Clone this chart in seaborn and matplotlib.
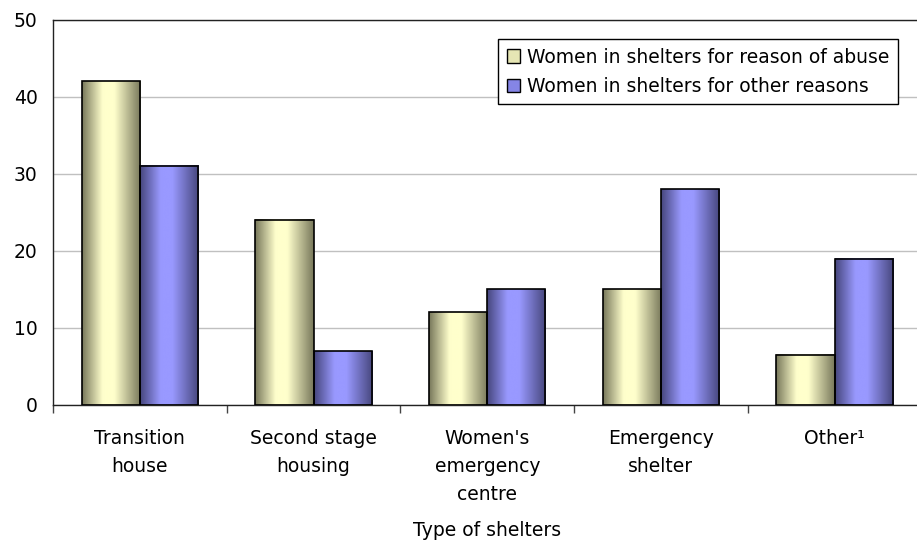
import matplotlib
matplotlib.use("Agg")
import matplotlib.pyplot as plt
from matplotlib.colors import LinearSegmentedColormap, to_rgba
from matplotlib.patches import Patch
import numpy as np
import pandas as pd
import seaborn as sns

# data
shelter_types = ["Transition\nhouse", "Second stage\nhousing", "Women's\nemergency\ncentre",
                 "Emergency\nshelter", "Other\u00b9"]
series_names = ["Women in shelters for reason of abuse", "Women in shelters for other reasons"]
abuse_values = [42, 24, 12, 15, 6.5]
other_values = [31, 7, 15, 28, 19]
y_ticks = [0, 10, 20, 30, 40, 50]

df = pd.DataFrame({
    "shelter": shelter_types * 2,
    "series": [series_names[0]] * 5 + [series_names[1]] * 5,
    "value": abuse_values + other_values,
})

# dark edge / light centre of the cylinder-ish shading
shades = {
    series_names[0]: ("#77775a", "#ffffcc", "#e6e6b4"),
    series_names[1]: ("#46467c", "#9999ff", "#8585e6"),
}

sns.set_style("white")
plt.rcParams["font.family"] = ["DejaVu Sans"]
plt.rcParams["text.color"] = "black"
plt.rcParams["xtick.color"] = "black"
plt.rcParams["ytick.color"] = "black"
plt.rcParams["axes.labelcolor"] = "black"

fig = plt.figure(figsize=(9.17, 5.49), dpi=100)
W, H = 917, 549
ax = fig.add_axes([53 / W, 1 - 405 / H, (921.5 - 53) / W, (405 - 19.5) / H])

palette = {s: shades[s][2] for s in series_names}
sns.barplot(data=df, x="shelter", y="value", hue="series", order=shelter_types,
            hue_order=series_names, palette=palette, width=0.67, saturation=1,
            legend=False, ax=ax, edgecolor="black", linewidth=1.2, zorder=3)

# replace flat fills with a horizontal gradient
for patch in ax.patches:
    fc = to_rgba(patch.get_facecolor())
    name = min(series_names, key=lambda s: np.sum(np.abs(np.array(to_rgba(shades[s][2])) - fc)))
    dark, light, _ = shades[name]
    cmap = LinearSegmentedColormap.from_list(
        "g", [(0, dark), (0.35, light), (0.55, light), (1, dark)])
    x0, y0 = patch.get_x(), patch.get_y()
    w, h = patch.get_width(), patch.get_height()
    grad = np.linspace(0, 1, 256).reshape(1, -1)
    ax.imshow(grad, cmap=cmap, extent=[x0, x0 + w, y0, y0 + h], aspect="auto",
              zorder=2.5, interpolation="bicubic")
    patch.set_facecolor("none")

ax.set_xlim(-0.5, len(shelter_types) - 0.5)
ax.set_ylim(0, 50)
ax.set_yticks(y_ticks)
ax.yaxis.grid(True, color="#c0c0c0", linewidth=1)
ax.set_axisbelow(True)

ax.set_xticks(np.arange(len(shelter_types) + 1) - 0.5, minor=True)
ax.tick_params(axis="x", which="minor", length=6, width=1, color="#444444", direction="out",
               bottom=True)
ax.tick_params(axis="x", which="major", length=0, pad=17, labelsize=13.5)
ax.tick_params(axis="y", length=0, pad=11, labelsize=13.5)
for lab in ax.get_xticklabels():
    lab.set_linespacing(1.6)

for side in ["left", "bottom", "top"]:
    ax.spines[side].set_visible(True)
    ax.spines[side].set_color("#222222")
    ax.spines[side].set_linewidth(1)
ax.spines["right"].set_visible(False)

ax.set_ylabel("")
ax.set_xlabel("Type of shelters", fontsize=13.5, labelpad=12.5)

handles = [Patch(facecolor=shades[s][2], edgecolor="black", linewidth=1) for s in series_names]
leg = ax.legend(handles, series_names, loc="upper right", bbox_to_anchor=(0.973, 0.949),
                borderaxespad=0, fontsize=13.5, frameon=True, fancybox=False,
                handlelength=0.7, handleheight=0.7, handletextpad=0.4,
                labelspacing=0.55, borderpad=0.45)
leg.get_frame().set_edgecolor("black")
leg.get_frame().set_linewidth(1)
leg.get_frame().set_alpha(1)

fig.savefig("out.png", dpi=100)
